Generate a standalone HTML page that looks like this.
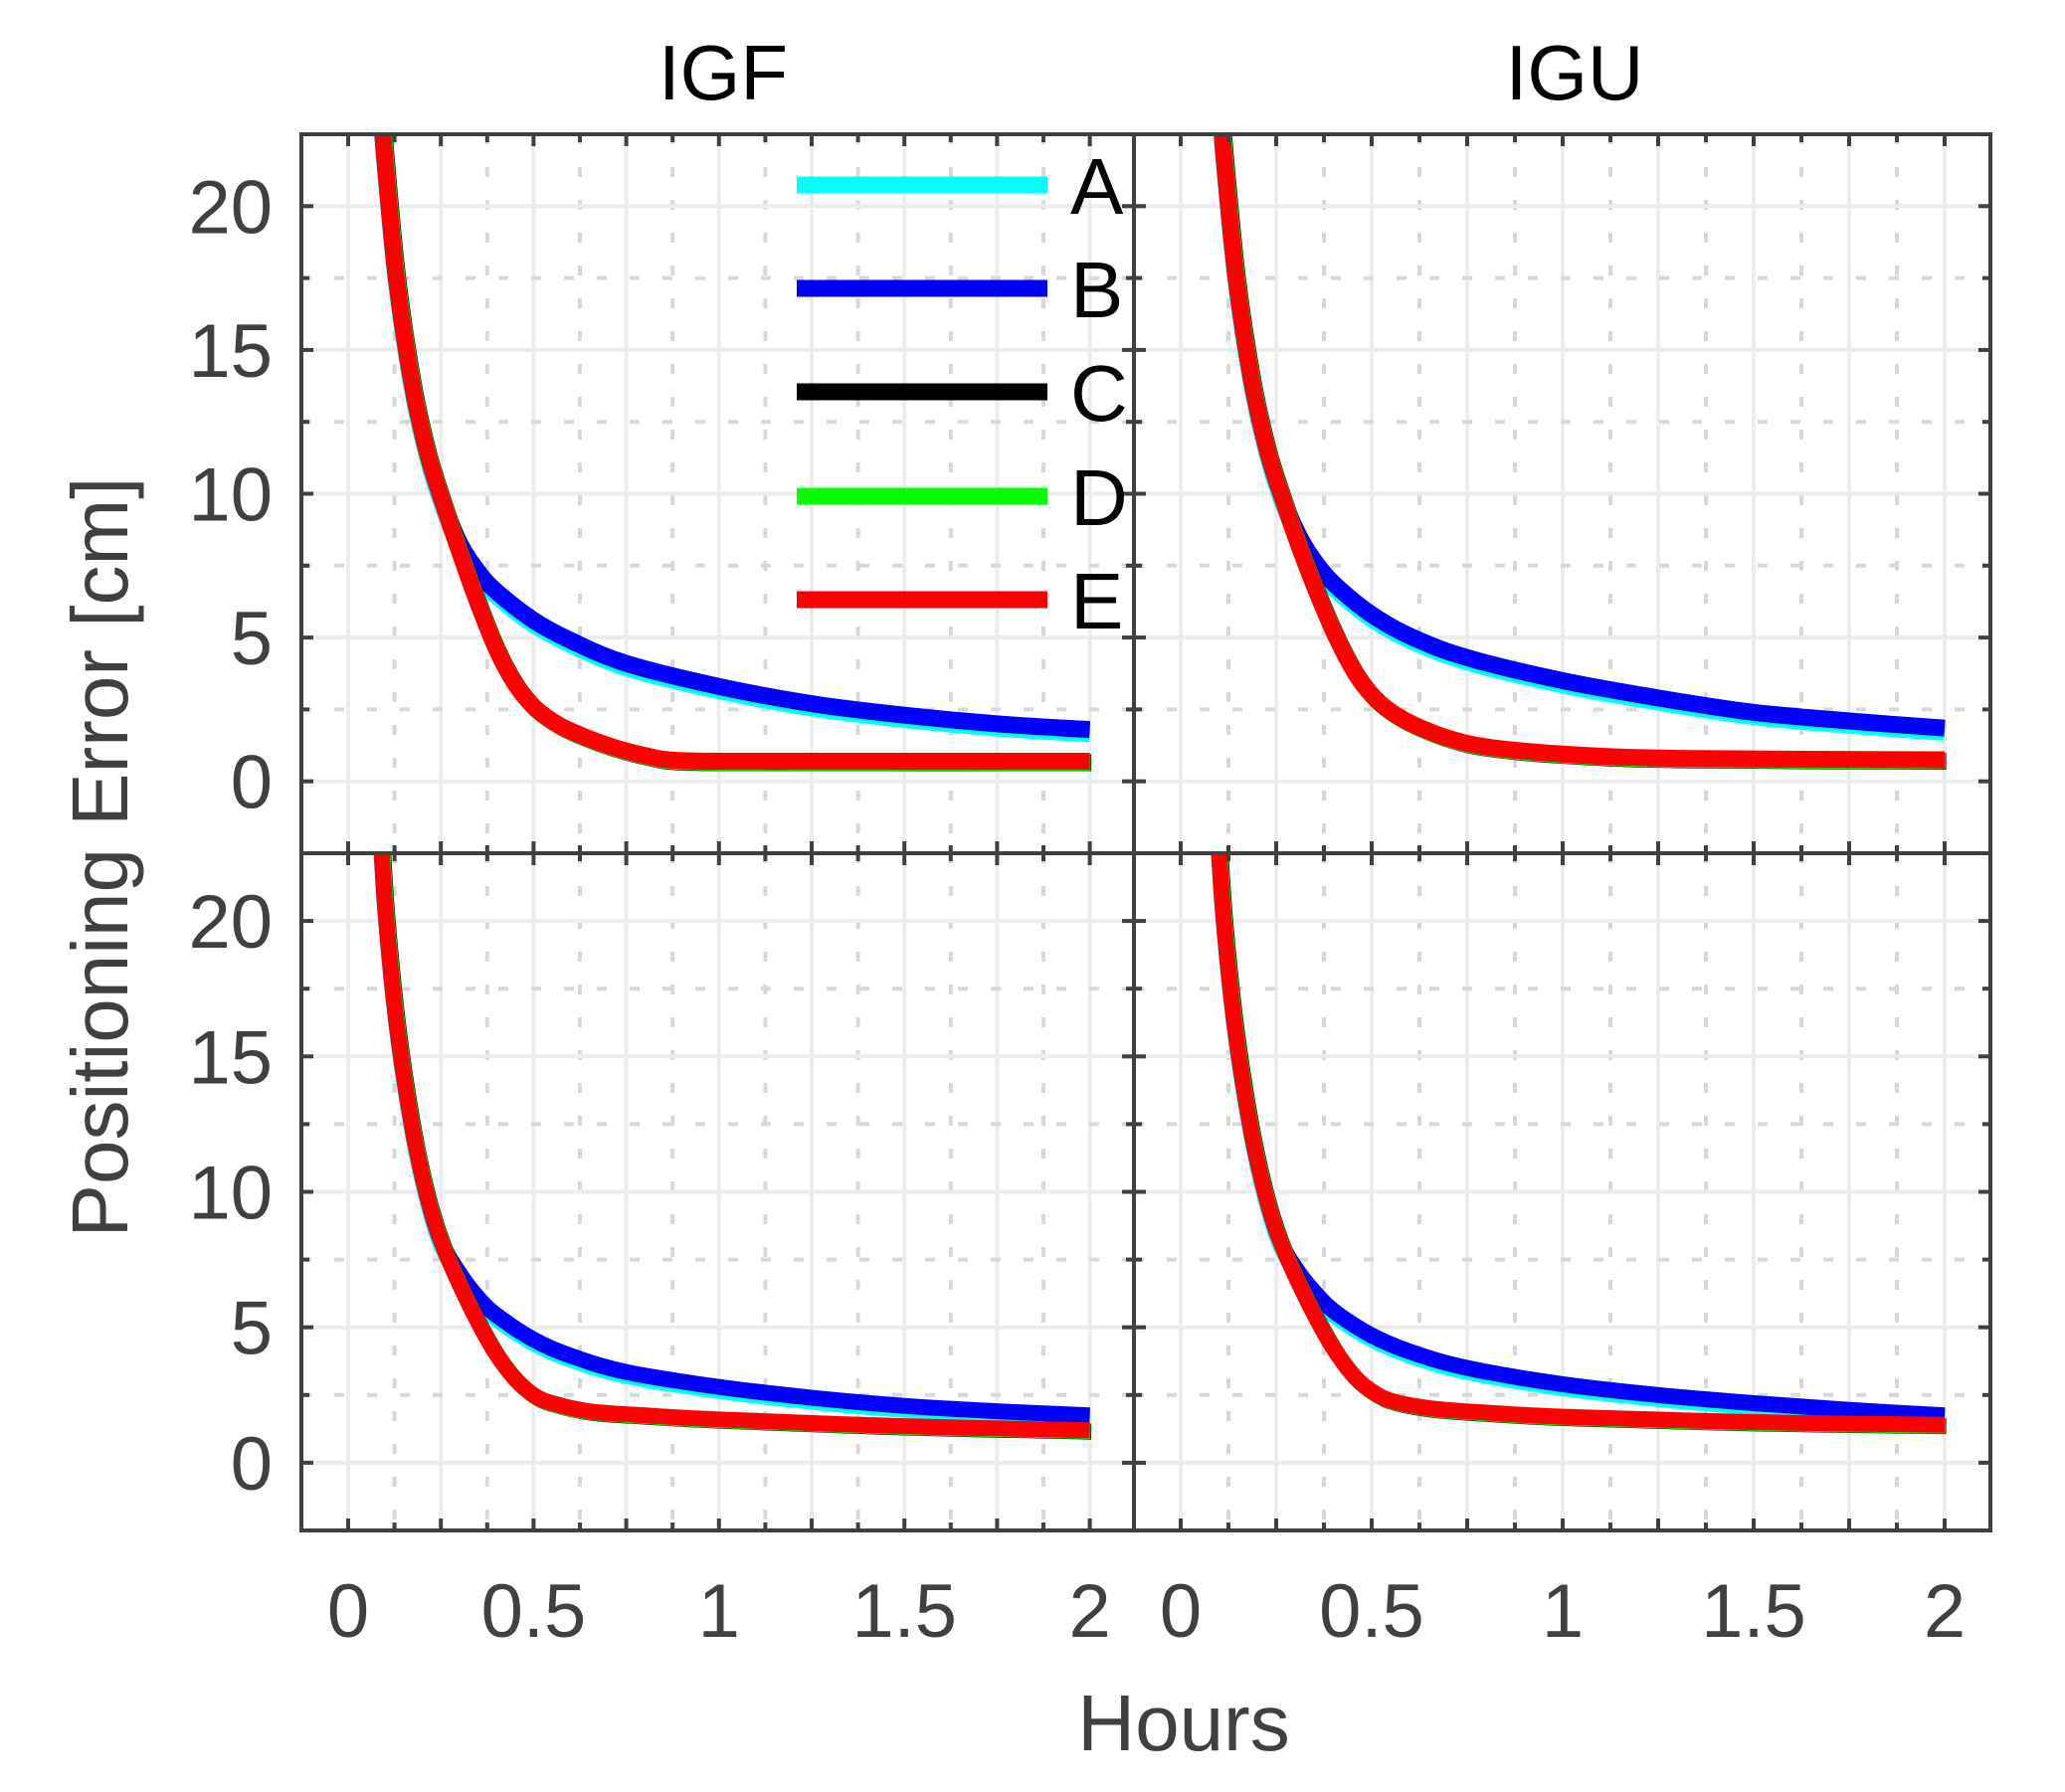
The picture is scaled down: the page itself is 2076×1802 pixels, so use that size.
<!DOCTYPE html>
<html><head><meta charset="utf-8"><style>
html,body{margin:0;padding:0;background:#fff}
svg{display:block}
text{font-family:"Liberation Sans",Arial,sans-serif}
</style></head><body>
<svg id="s" xmlns="http://www.w3.org/2000/svg" width="2076" height="1802" viewBox="0 0 2076 1802">
<defs>
<clipPath id="c0"><rect x="303" y="135" width="837" height="723"/></clipPath>
<clipPath id="c1"><rect x="1140" y="135" width="861" height="723"/></clipPath>
<clipPath id="c2"><rect x="303" y="858" width="837" height="681"/></clipPath>
<clipPath id="c3"><rect x="1140" y="858" width="861" height="681"/></clipPath>
</defs>
<g id="g"></g>
<text x="727" y="100" font-size="78" text-anchor="middle" fill="#000">IGF</text>
<text x="1583" y="100" font-size="78" text-anchor="middle" fill="#000">IGU</text>
<text x="1190" y="1760" font-size="80" text-anchor="middle" fill="#404040">Hours</text>
<text transform="translate(128,862) rotate(-90)" font-size="80" text-anchor="middle" fill="#404040">Positioning Error [cm]</text>
</svg>
<script>
const NS="http://www.w3.org/2000/svg",G=document.getElementById('g');
function el(t,a,p){const e=document.createElementNS(NS,t);for(const k in a)e.setAttribute(k,a[k]);(p||G).appendChild(e);return e;}
const P=[
 {L:303,R:1140,T:135,B:858,x0:350,xs:372.8,clip:'c0',top:true},
 {L:1140,R:2001,T:135,B:858,x0:1187,xs:384,clip:'c1',top:true},
 {L:303,R:1140,T:858,B:1539,x0:350,xs:372.8,clip:'c2',top:false},
 {L:1140,R:2001,T:858,B:1539,x0:1187,xs:384,clip:'c3',top:false}];
P.forEach(p=>{p.ys=(p.B-p.T)/25;p.X=t=>p.x0+t*p.xs;p.Y=v=>p.B-(v+2.5)*p.ys;});
P.forEach(p=>{
 for(let k=-1;k<=17;k++){const t=k*0.125,x=p.X(t);if(x<=p.L+2||x>=p.R-2)continue;
  if(k%2==0) el('line',{x1:x,x2:x,y1:p.T,y2:p.B,stroke:'#ececec','stroke-width':4});
  else el('line',{x1:x,x2:x,y1:p.T,y2:p.B,stroke:'#d8d8d8','stroke-width':4,'stroke-dasharray':'10 23'});}
 for(let k=-1;k<=9;k++){const v=k*2.5,y=p.Y(v);if(y<=p.T+2||y>=p.B-2)continue;
  if(k%2==0) el('line',{x1:p.L,x2:p.R,y1:y,y2:y,stroke:'#ececec','stroke-width':4});
  else el('line',{x1:p.L,x2:p.R,y1:y,y2:y,stroke:'#d8d8d8','stroke-width':4,'stroke-dasharray':'10 23'});}
});
function path(pts,p){
 const q=pts.map(a=>[p.X(a[0]),p.Y(a[1])]);let d='M'+q[0][0]+' '+q[0][1];
 for(let i=0;i<q.length-1;i++){const a=q[i-1]||q[i],b=q[i],c=q[i+1],e=q[i+2]||c;
  d+=' C'+(b[0]+(c[0]-a[0])/6)+' '+(b[1]+(c[1]-a[1])/6)+' '+(c[0]-(e[0]-b[0])/6)+' '+(c[1]-(e[1]-b[1])/6)+' '+c[0]+' '+c[1];}
 return d;}
const sx=(a,dx)=>a.map(q=>[q[0]+dx,q[1]]);
const headT=[[0.085,24],[0.1,21.5],[0.13,17.5],[0.17,14],[0.21,11.6],[0.25,9.9]];
const ET=headT.concat([[0.3,8.0],[0.35,6.2],[0.4,4.6],[0.45,3.4],[0.5,2.6],[0.55,2.1],[0.6,1.75],[0.7,1.25],[0.8,0.9],[0.9,0.72],[1.2,0.7],[2,0.7]]);
const BT=headT.concat([[0.3,8.3],[0.35,7.3],[0.4,6.6],[0.5,5.6],[0.6,4.9],[0.75,4.1],[1,3.3],[1.25,2.7],[1.5,2.3],[1.75,2.0],[2,1.8]]);
const ET2=sx(headT,0.015).concat([[0.315,8.0],[0.365,6.3],[0.415,4.8],[0.465,3.6],[0.515,2.8],[0.57,2.25],[0.63,1.85],[0.7,1.5],[0.8,1.2],[1,0.95],[1.3,0.8],[2,0.75]]);
const BT2=sx(headT,0.015).concat([[0.315,8.4],[0.365,7.4],[0.415,6.7],[0.5,5.8],[0.6,5.05],[0.75,4.3],[1,3.5],[1.25,2.9],[1.5,2.4],[1.75,2.1],[2,1.85]]);
const headB=[[0.085,24],[0.1,20.5],[0.13,16.3],[0.17,12.6],[0.21,10],[0.25,8.2]];
const EB=headB.concat([[0.3,6.6],[0.35,5.2],[0.4,4.0],[0.45,3.1],[0.5,2.5],[0.55,2.2],[0.65,1.9],[0.8,1.75],[1,1.6],[1.5,1.35],[2,1.2]]);
const BB=headB.concat([[0.3,7.0],[0.35,6.1],[0.4,5.45],[0.5,4.55],[0.6,3.95],[0.75,3.35],[1,2.8],[1.25,2.4],[1.5,2.1],[1.75,1.9],[2,1.75]]);
const EB2=sx(headB,0.01).concat([[0.31,6.6],[0.36,5.2],[0.41,4.0],[0.46,3.1],[0.51,2.55],[0.56,2.25],[0.66,2.0],[0.8,1.85],[1,1.7],[1.5,1.5],[2,1.4]]);
const BB2=sx(headB,0.01).concat([[0.31,7.0],[0.36,6.15],[0.41,5.5],[0.5,4.7],[0.6,4.1],[0.75,3.5],[1,2.9],[1.25,2.5],[1.5,2.2],[1.75,1.95],[2,1.75]]);
const D=[{E:ET,B:BT},{E:ET2,B:BT2},{E:EB,B:BB},{E:EB2,B:BB2}];
P.forEach((p,i)=>{
 const g=el('g',{'clip-path':'url(#'+p.clip+')'});const d=D[i];
 const w=p.top?17:16;
 el('path',{d:path(d.B.map(q=>[q[0],q[1]-0.15]),p),fill:'none',stroke:'#00ffff','stroke-width':w},g);
 el('path',{d:path(d.B,p),fill:'none',stroke:'#0000ff','stroke-width':w},g);
 el('path',{d:path(d.E.map(q=>[q[0]+0.004,q[1]-0.05]),p),fill:'none',stroke:'#000','stroke-width':w},g);
 el('path',{d:path(d.E.map(q=>[q[0]+0.002,q[1]-0.03]),p),fill:'none',stroke:'#00ff00','stroke-width':w},g);
 el('path',{d:path(d.E,p),fill:'none',stroke:'#ff0000','stroke-width':w},g);
});
P.forEach(p=>{
 el('rect',{x:p.L,y:p.T,width:p.R-p.L,height:p.B-p.T,fill:'none',stroke:'#404040','stroke-width':4});
 for(let k=-1;k<=17;k++){const x=p.X(k*0.125);if(x<=p.L+2||x>=p.R-2)continue;const l=k%2==0?12:8;
  el('line',{x1:x,x2:x,y1:p.B,y2:p.B-l,stroke:'#404040','stroke-width':4});
  el('line',{x1:x,x2:x,y1:p.T,y2:p.T+l,stroke:'#404040','stroke-width':4});}
 for(let k=-1;k<=9;k++){const y=p.Y(k*2.5);if(y<=p.T+2||y>=p.B-2)continue;const l=k%2==0?12:8;
  el('line',{x1:p.L,x2:p.L+l,y1:y,y2:y,stroke:'#404040','stroke-width':4});
  el('line',{x1:p.R,x2:p.R-l,y1:y,y2:y,stroke:'#404040','stroke-width':4});}
 if(p.L==303){for(let v=0;v<=20;v+=5){const t=el('text',{x:274,y:p.Y(v)+27,'font-size':76,'text-anchor':'end',fill:'#404040'});t.textContent=v;}}
 if(!p.top){[0,0.5,1,1.5,2].forEach(v=>{const t=el('text',{x:p.X(v),y:1646,'font-size':76,'text-anchor':'middle',fill:'#404040'});t.textContent=v;});}
});
const LC=['#00ffff','#0000ff','#000000','#00ff00','#ff0000'],LN='ABCDE',LY=[186,290,394,499,603];
LC.forEach((c,i)=>{el('line',{x1:801,x2:1053,y1:LY[i],y2:LY[i],stroke:c,'stroke-width':17});
 const t=el('text',{x:1076,y:LY[i]+29,'font-size':80,fill:'#000'});t.textContent=LN[i];});
</script>
</body></html>
